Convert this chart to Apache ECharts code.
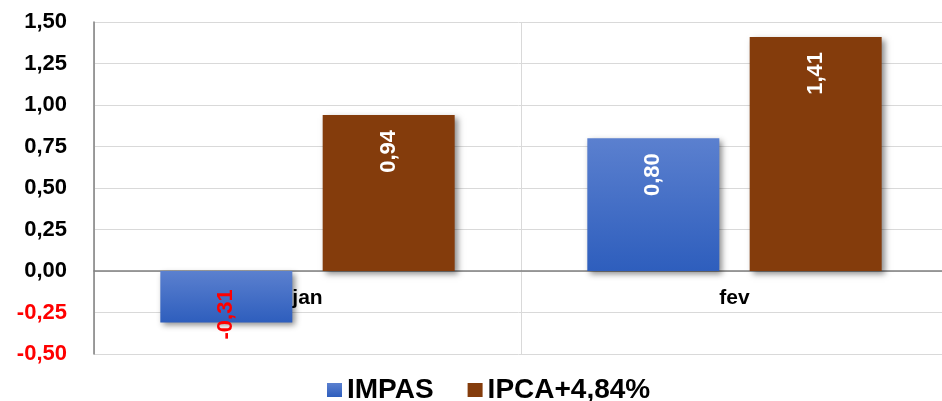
<!DOCTYPE html>
<html>
<head>
<meta charset="utf-8">
<script src="https://cdn.jsdelivr.net/npm/echarts@6/dist/echarts.min.js"></script>
<style>
  html, body { margin: 0; padding: 0; background: #fff; }
  #chart { width: 942px; height: 401px; }
</style>
</head>
<body>
<div id="chart"></div>
<script>
    const categories = ['jan', 'fev'];
    const impas = [-0.31, 0.80];
    const ipca = [0.94, 1.41];
    const seriesNames = ['IMPAS', 'IPCA+4,84%'];

    const fontFamily = '"Liberation Sans", Arial, sans-serif';
    const fmt = v => v.toFixed(2).replace('.', ',');

    const blueGradient = new echarts.graphic.LinearGradient(0, 0, 0, 1, [
        { offset: 0, color: '#5b80cf' },
        { offset: 1, color: '#2e5ebd' }
    ]);

    const shadow = {
        shadowColor: 'rgba(0,0,0,0.45)',
        shadowBlur: 6,
        shadowOffsetX: 3,
        shadowOffsetY: 3
    };

    // positive bars: label inside near the top, reading bottom to top
    const topLabel = {
        show: true,
        position: 'insideTop',
        rotate: 90,
        align: 'right',
        verticalAlign: 'middle',
        distance: 15,
        color: '#fff',
        fontFamily: fontFamily,
        fontWeight: 'bold',
        fontSize: 22,
        formatter: p => fmt(p.value)
    };

    const impasData = impas.map(v => {
        if (v >= 0) return v;
        return {
            value: v,
            label: {
                position: 'insideBottom',
                align: 'left',
                distance: -17,
                color: '#ff0000'
            }
        };
    });

    const myChart = echarts.init(document.getElementById('chart'), null, { renderer: 'canvas' });

    myChart.setOption({
        animation: false,
        // plot area runs a little past the right edge of the picture
        grid: { left: 94, width: 854, top: 22, bottom: 47, outerBoundsMode: 'none', containLabel: false },
        legend: {
            data: seriesNames,
            left: 322,
            top: 371,
            icon: 'rect',
            itemWidth: 15,
            itemHeight: 14,
            itemGap: 34,
            textStyle: {
                fontFamily: fontFamily,
                fontWeight: 'bold',
                fontSize: 28,
                color: '#000'
            }
        },
        xAxis: {
            type: 'category',
            data: categories,
            axisLine: { show: true, onZero: true, lineStyle: { color: '#7f7f7f', width: 1.5 } },
            axisTick: { show: false },
            axisLabel: {
                // labels sit just under the zero line
                margin: -66,
                fontFamily: fontFamily,
                fontWeight: 'bold',
                fontSize: 21,
                color: '#000'
            },
            splitLine: { show: true, lineStyle: { color: '#d9d9d9', width: 1 } }
        },
        yAxis: {
            type: 'value',
            min: -0.5,
            max: 1.5,
            interval: 0.25,
            axisLine: { show: true, lineStyle: { color: '#7f7f7f', width: 1.5 } },
            axisTick: { show: false },
            axisLabel: {
                margin: 27,
                fontFamily: fontFamily,
                fontWeight: 'bold',
                fontSize: 22,
                formatter: v => fmt(v),
                color: v => (v < 0 ? '#ff0000' : '#000')
            },
            splitLine: { lineStyle: { color: '#d9d9d9', width: 1 } }
        },
        series: [
            {
                name: seriesNames[0],
                type: 'bar',
                barWidth: 132,
                barGap: '23%',
                itemStyle: Object.assign({ color: blueGradient }, shadow),
                label: topLabel,
                data: impasData
            },
            {
                name: seriesNames[1],
                type: 'bar',
                barWidth: 132,
                barGap: '23%',
                itemStyle: Object.assign({ color: '#843c0c' }, shadow),
                label: topLabel,
                data: ipca
            }
        ]
    });
</script>
</body>
</html>
